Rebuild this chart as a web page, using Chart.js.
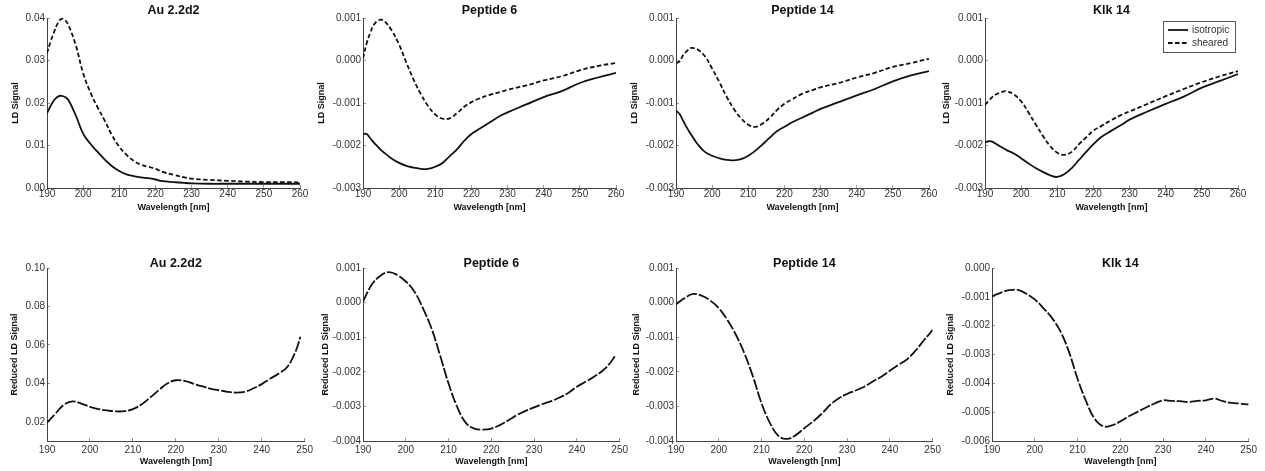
<!DOCTYPE html>
<html>
<head>
<meta charset="utf-8">
<script src="https://cdn.jsdelivr.net/npm/chart.js@4.4.0/dist/chart.umd.min.js"></script>
<style>
  html, body { margin: 0; padding: 0; background: #fff; }
  body { width: 1265px; height: 471px; position: relative; overflow: hidden; }
  .panel { position: absolute; }
  .panel canvas { display: block; }
</style>
</head>
<body>
<script>
// 波长网格 (nm)
const topWl = [190, 191, 192, 193, 194, 195, 196, 198, 200, 202, 204, 206, 208, 210, 212, 214, 216, 218, 220, 222, 225, 228, 230, 235, 240, 245, 250, 255, 260];
const botWl = [190, 192, 194, 196, 198, 200, 202, 204, 206, 208, 210, 212, 214, 216, 218, 220, 222, 224, 226, 228, 230, 232, 234, 236, 238, 240, 242, 244, 246, 248, 249, 250];

// 上排：LD 信号（isotropic / sheared）
const auIso = [0.0176, 0.0193, 0.0207, 0.0215, 0.0217, 0.0214, 0.0206, 0.0170, 0.0128, 0.0104, 0.0085, 0.0067, 0.0051, 0.0040, 0.0032, 0.0028, 0.0025, 0.0023, 0.0020, 0.0016, 0.0014, 0.0012, 0.0011, 0.0010, 0.0010, 0.0010, 0.0010, 0.0010, 0.0010];
const auShear = [0.0317, 0.0345, 0.0368, 0.0388, 0.0398, 0.0395, 0.0382, 0.0335, 0.0270, 0.0225, 0.0190, 0.0158, 0.0124, 0.0097, 0.0078, 0.0064, 0.0055, 0.0050, 0.0045, 0.0038, 0.0031, 0.0025, 0.0022, 0.0019, 0.0017, 0.0015, 0.0014, 0.0014, 0.0013];

const pep6Iso = [-0.00173, -0.00173, -0.00183, -0.00193, -0.00202, -0.00211, -0.00218, -0.00231, -0.00241, -0.00248, -0.00252, -0.00255, -0.00255, -0.00250, -0.00241, -0.00225, -0.00209, -0.00189, -0.00173, -0.00162, -0.00146, -0.00130, -0.00122, -0.00104, -0.00086, -0.00072, -0.00053, -0.00040, -0.00029];
const pep6Shear = [0.00005, 0.00040, 0.00065, 0.00084, 0.00093, 0.00096, 0.00092, 0.00070, 0.00037, -0.00005, -0.00045, -0.00079, -0.00107, -0.00127, -0.00137, -0.00136, -0.00124, -0.00109, -0.00098, -0.00090, -0.00081, -0.00074, -0.00069, -0.00059, -0.00047, -0.00037, -0.00023, -0.00013, -0.00006];

const pep14Iso = [-0.00118, -0.00126, -0.00142, -0.00158, -0.00172, -0.00185, -0.00197, -0.00215, -0.00224, -0.00230, -0.00234, -0.00235, -0.00232, -0.00224, -0.00212, -0.00197, -0.00181, -0.00166, -0.00156, -0.00146, -0.00134, -0.00122, -0.00114, -0.00098, -0.00082, -0.00067, -0.00049, -0.00035, -0.00025];
const pep14Shear = [-0.00006, -0.00002, 0.00013, 0.00022, 0.00029, 0.00029, 0.00026, 0.00010, -0.00019, -0.00051, -0.00085, -0.00114, -0.00136, -0.00151, -0.00156, -0.00148, -0.00134, -0.00116, -0.00102, -0.00092, -0.00078, -0.00069, -0.00063, -0.00053, -0.00040, -0.00029, -0.00015, -0.00006, 0.00004];

const klkIso = [-0.00193, -0.00190, -0.00191, -0.00196, -0.00201, -0.00206, -0.00211, -0.00219, -0.00230, -0.00242, -0.00253, -0.00262, -0.00270, -0.00274, -0.00267, -0.00253, -0.00234, -0.00215, -0.00197, -0.00181, -0.00165, -0.00150, -0.00139, -0.00120, -0.00102, -0.00085, -0.00064, -0.00048, -0.00032];
const klkShear = [-0.00104, -0.00095, -0.00086, -0.00080, -0.00076, -0.00073, -0.00072, -0.00080, -0.00096, -0.00122, -0.00150, -0.00177, -0.00201, -0.00217, -0.00222, -0.00215, -0.00197, -0.00181, -0.00165, -0.00155, -0.00140, -0.00127, -0.00120, -0.00102, -0.00084, -0.00067, -0.00051, -0.00037, -0.00025];

// 下排：Reduced LD（249 之后无数据用 null）
const auRed = [0.0195, 0.0243, 0.0290, 0.0306, 0.0295, 0.0278, 0.0266, 0.0259, 0.0254, 0.0255, 0.0266, 0.0290, 0.0326, 0.0364, 0.0399, 0.0416, 0.0413, 0.0399, 0.0385, 0.0373, 0.0364, 0.0356, 0.0352, 0.0356, 0.0373, 0.0396, 0.0425, 0.0451, 0.0486, 0.0572, 0.0642, null];
const pep6Red = [0.00003, 0.00051, 0.00077, 0.00088, 0.00080, 0.00061, 0.00032, -0.00016, -0.00074, -0.00152, -0.00234, -0.00301, -0.00347, -0.00364, -0.00367, -0.00364, -0.00354, -0.00340, -0.00325, -0.00313, -0.00303, -0.00293, -0.00285, -0.00274, -0.00261, -0.00243, -0.00229, -0.00214, -0.00197, -0.00171, -0.00152, null];
const pep14Red = [-0.00005, 0.00013, 0.00025, 0.00020, 0.00006, -0.00016, -0.00050, -0.00093, -0.00147, -0.00214, -0.00291, -0.00349, -0.00386, -0.00394, -0.00383, -0.00363, -0.00344, -0.00322, -0.00296, -0.00277, -0.00264, -0.00254, -0.00243, -0.00228, -0.00214, -0.00197, -0.00180, -0.00164, -0.00139, -0.00108, -0.00094, -0.00079];
const klkRed = [-0.00098, -0.00086, -0.00077, -0.00076, -0.00089, -0.00109, -0.00139, -0.00173, -0.00220, -0.00291, -0.00384, -0.00462, -0.00523, -0.00549, -0.00546, -0.00532, -0.00514, -0.00499, -0.00484, -0.00470, -0.00459, -0.00461, -0.00462, -0.00465, -0.00461, -0.00459, -0.00453, -0.00462, -0.00468, -0.00470, -0.00472, -0.00473];

// 刻度
const topXTicks = [190, 200, 210, 220, 230, 240, 250, 260];
const botXTicks = [190, 200, 210, 220, 230, 240, 250];
const auYTicks = [0, 0.01, 0.02, 0.03, 0.04];
const auYLabels = ['0.00', '0.01', '0.02', '0.03', '0.04'];
const pepYTicks = [-0.003, -0.002, -0.001, 0, 0.001];
const pepYLabels = ['-0.003', '-0.002', '-0.001', '0.000', '0.001'];
const auRedYTicks = [0.02, 0.04, 0.06, 0.08, 0.10];
const auRedYLabels = ['0.02', '0.04', '0.06', '0.08', '0.10'];
const pepRedYTicks = [-0.004, -0.003, -0.002, -0.001, 0, 0.001];
const pepRedYLabels = ['-0.004', '-0.003', '-0.002', '-0.001', '0.000', '0.001'];
const klkRedYTicks = [-0.006, -0.005, -0.004, -0.003, -0.002, -0.001, 0];
const klkRedYLabels = ['-0.006', '-0.005', '-0.004', '-0.003', '-0.002', '-0.001', '0.000'];

const FONT = '"Liberation Sans", Arial, sans-serif';
Chart.defaults.font.family = FONT;

const AXIS_W = 48;   // y轴区域宽度
const PAD_R = 14;

// 行布局
const rowTop = { titleH: 18, titlePad: { top: 4.75, bottom: 0.75 }, xAxisH: 26, xTickPad: 3.5, xTitlePad: 1.3, yTitle: 'LD Signal', xMax: 260, xTicks: topXTicks, y0: 18, y1: 188 };
const rowBot = { titleH: 20, titlePad: { top: 9.75, bottom: -2.25 }, xAxisH: 28, xTickPad: 6, xTitlePad: 1.9, yTitle: 'Reduced LD Signal', xMax: 250, xTicks: botXTicks, y0: 268, y1: 441 };

const SOLID = [];
const DASH = [4.5, 2.5];
const LONGDASH = [11, 2];

const panels = [
    { row: rowTop, title: 'Au 2.2d2', x0: 47, x1: 300, xs: topWl, yMin: 0, yMax: 0.04, yTicks: auYTicks, yLabels: auYLabels, yTitleOff: 31,
      series: [{ label: 'isotropic', values: auIso, dash: SOLID }, { label: 'sheared', values: auShear, dash: DASH }] },
    { row: rowTop, title: 'Peptide 6', x0: 363, x1: 616, xs: topWl, yMin: -0.003, yMax: 0.001, yTicks: pepYTicks, yLabels: pepYLabels, yTitleOff: 41.6,
      series: [{ label: 'isotropic', values: pep6Iso, dash: SOLID }, { label: 'sheared', values: pep6Shear, dash: DASH }] },
    { row: rowTop, title: 'Peptide 14', x0: 676, x1: 929, xs: topWl, yMin: -0.003, yMax: 0.001, yTicks: pepYTicks, yLabels: pepYLabels, yTitleOff: 41,
      series: [{ label: 'isotropic', values: pep14Iso, dash: SOLID }, { label: 'sheared', values: pep14Shear, dash: DASH }] },
    { row: rowTop, title: 'Klk 14', x0: 985, x1: 1238, xs: topWl, yMin: -0.003, yMax: 0.001, yTicks: pepYTicks, yLabels: pepYLabels, yTitleOff: 38, legend: true,
      series: [{ label: 'isotropic', values: klkIso, dash: SOLID }, { label: 'sheared', values: klkShear, dash: DASH }] },
    { row: rowBot, title: 'Au 2.2d2', x0: 47, x1: 305, xs: botWl, yMin: 0.01, yMax: 0.10, yTicks: auRedYTicks, yLabels: auRedYLabels, yTitleOff: 32.7,
      series: [{ label: 'reduced', values: auRed, dash: LONGDASH }] },
    { row: rowBot, title: 'Peptide 6', x0: 363, x1: 620, xs: botWl, yMin: -0.004, yMax: 0.001, yTicks: pepRedYTicks, yLabels: pepRedYLabels, yTitleOff: 37.7,
      series: [{ label: 'reduced', values: pep6Red, dash: LONGDASH }] },
    { row: rowBot, title: 'Peptide 14', x0: 676, x1: 933, xs: botWl, yMin: -0.004, yMax: 0.001, yTicks: pepRedYTicks, yLabels: pepRedYLabels, yTitleOff: 39.3,
      series: [{ label: 'reduced', values: pep14Red, dash: LONGDASH }] },
    { row: rowBot, title: 'Klk 14', x0: 992, x1: 1249, xs: botWl, yMin: -0.006, yMax: 0, yTicks: klkRedYTicks, yLabels: klkRedYLabels, yTitleOff: 41.7,
      series: [{ label: 'reduced', values: klkRed, dash: LONGDASH }] },
];

/** 图内带边框的图例 */
const boxLegend = {
    id: 'boxLegend',
    afterDraw(chart, args, opts) {
        if (!opts.show) return;
        const { ctx, chartArea } = chart;
        const bw = 72, bh = 31;
        const bx = Math.round(chartArea.right - bw - 3), by = Math.round(chartArea.top + 3);
        ctx.save();
        ctx.fillStyle = '#fff';
        ctx.fillRect(bx, by, bw, bh);
        ctx.strokeStyle = '#555';
        ctx.lineWidth = 1;
        ctx.strokeRect(bx + 0.5, by + 0.5, bw, bh);
        chart.data.datasets.forEach((ds, i) => {
            const y = by + 9 + i * 13;
            ctx.setLineDash(ds.borderDash || []);
            ctx.strokeStyle = ds.borderColor;
            ctx.lineWidth = ds.borderWidth;
            ctx.beginPath();
            ctx.moveTo(bx + 5, y);
            ctx.lineTo(bx + 25, y);
            ctx.stroke();
            ctx.setLineDash([]);
            ctx.fillStyle = '#333';
            ctx.font = '10px ' + FONT;
            ctx.textBaseline = 'middle';
            ctx.fillText(ds.label, bx + 29, y);
        });
        ctx.restore();
    }
};

function makePanel(p) {
    const row = p.row;
    const w = p.x1 - p.x0 + AXIS_W + PAD_R;
    const h = row.y1 - row.y0 + row.titleH + row.xAxisH;
    const div = document.createElement('div');
    div.className = 'panel';
    div.style.left = (p.x0 - AXIS_W) + 'px';
    div.style.top = (row.y0 - row.titleH) + 'px';
    const cv = document.createElement('canvas');
    cv.width = w;
    cv.height = h;
    div.appendChild(cv);
    document.body.appendChild(div);

    const datasets = p.series.map(s => ({
        label: s.label,
        data: p.xs.map((x, i) => ({ x: x, y: s.values[i] })).filter(d => d.y !== null),
        borderColor: '#111',
        borderWidth: 1.8,
        borderDash: s.dash,
        pointRadius: 0,
        tension: 0.4,
        fill: false
    }));

    const tickGrid = { drawOnChartArea: false, drawTicks: true, tickLength: -3, color: '#999', lineWidth: 1 };
    const axisBorder = { color: '#444', width: 1 };

    new Chart(cv, {
        type: 'line',
        data: { datasets },
        plugins: [boxLegend],
        options: {
            responsive: false,
            animation: false,
            layout: { padding: { left: 0, right: PAD_R, top: 0, bottom: 0 } },
            plugins: {
                legend: { display: false },
                tooltip: { enabled: false },
                title: {
                    display: true,
                    text: p.title,
                    fullSize: false,
                    color: '#111',
                    font: { size: 12.5, weight: 'bold', lineHeight: 1 },
                    padding: row.titlePad
                },
                boxLegend: { show: !!p.legend }
            },
            scales: {
                x: {
                    type: 'linear',
                    min: 190,
                    max: row.xMax,
                    afterBuildTicks: s => { s.ticks = row.xTicks.map(v => ({ value: v })); },
                    afterFit: s => { s.height = row.xAxisH; },
                    ticks: { color: '#333', font: { size: 10 }, padding: row.xTickPad, maxRotation: 0, callback: v => String(v) },
                    grid: tickGrid,
                    border: axisBorder,
                    title: { display: true, text: 'Wavelength [nm]', color: '#111', font: { size: 9, weight: 'bold' }, padding: { top: 0, bottom: row.xTitlePad } }
                },
                y: {
                    type: 'linear',
                    min: p.yMin,
                    max: p.yMax,
                    afterBuildTicks: s => { s.ticks = p.yTicks.map(v => ({ value: v })); },
                    afterFit: s => { s.width = AXIS_W; },
                    ticks: { color: '#333', font: { size: 10 }, padding: 5, callback: (v, i) => p.yLabels[i] },
                    grid: tickGrid,
                    border: axisBorder,
                    title: { display: true, text: row.yTitle, color: '#111', font: { size: 9, weight: 'bold' }, padding: { top: AXIS_W - p.yTitleOff - 5.4, bottom: 0 } }
                }
            }
        }
    });
}

panels.forEach(makePanel);
</script>
</body>
</html>
